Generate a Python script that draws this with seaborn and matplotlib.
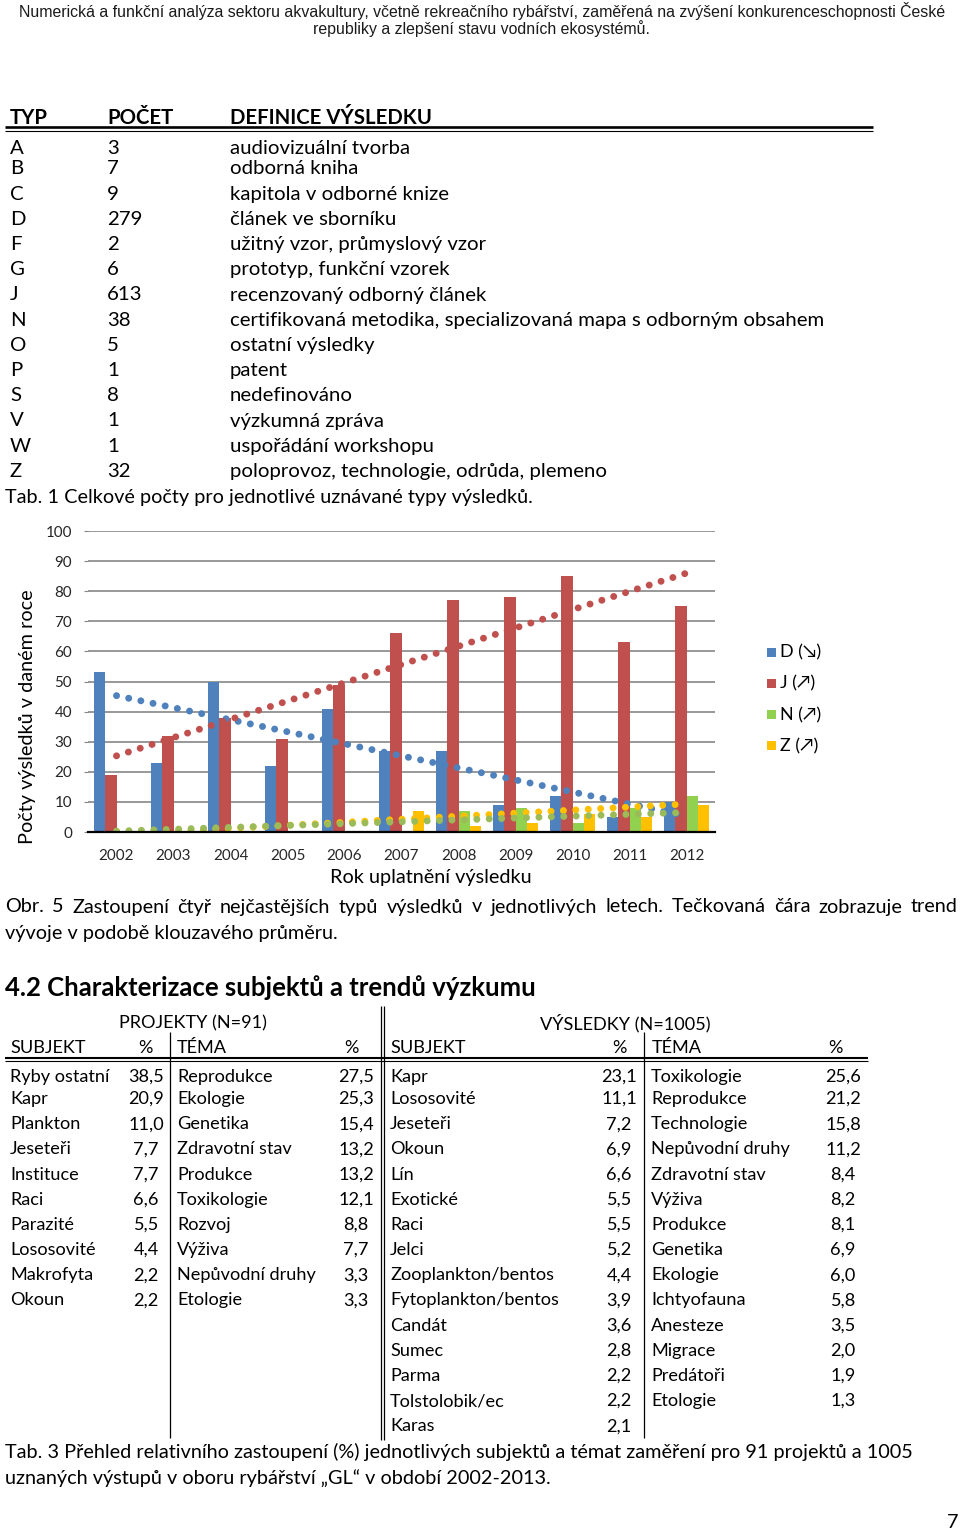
import numpy as np
import pandas as pd
import matplotlib
matplotlib.use("Agg")
import matplotlib.pyplot as plt
import seaborn as sns
from matplotlib.lines import Line2D
from matplotlib.patches import Rectangle
from matplotlib import font_manager as fm

# ---------------- data ----------------
years = ["2002", "2003", "2004", "2005", "2006", "2007", "2008", "2009", "2010", "2011", "2012"]
D_values = [53, 23, 50, 22, 41, 27, 27, 9, 12, 5, 10]
J_values = [19, 32, 38, 31, 49, 66, 77, 78, 85, 63, 75]
N_values = [0, 0, 0, 0, 0, 0, 7, 8, 3, 8, 12]
Z_values = [0, 0, 0, 0, 0, 7, 2, 3, 6, 5, 9]
series_labels = ["D (\u2198)", "J (\u2197)", "N (\u2197)", "Z (\u2197)"]
# trend line values (at 2002 and at 2012)
trend_start = [45.3, 25.3, 0.3, -0.8]
trend_end = [5.3, 86.0, 6.5, 9.3]
y_ticks = [0, 10, 20, 30, 40, 50, 60, 70, 80, 90, 100]

tab1_typ = ["A", "B", "C", "D", "F", "G", "J", "N", "O", "P", "S", "V", "W", "Z"]
tab1_pocet = [3, 7, 9, 279, 2, 6, 613, 38, 5, 1, 8, 1, 1, 32]
tab1_def = ["audiovizuální tvorba", "odborná kniha", "kapitola v odborné knize",
            "článek ve sborníku", "užitný vzor, průmyslový vzor", "prototyp, funkční vzorek",
            "recenzovaný odborný článek",
            "certifikovaná metodika, specializovaná mapa s odborným obsahem",
            "ostatní výsledky", "patent", "nedefinováno", "výzkumná zpráva",
            "uspořádání workshopu", "poloprovoz, technologie, odrůda, plemeno"]

proj_subj = ["Ryby ostatní", "Kapr", "Plankton", "Jeseteři", "Instituce", "Raci",
             "Parazité", "Lososovité", "Makrofyta", "Okoun"]
proj_subj_pct = [38.5, 20.9, 11.0, 7.7, 7.7, 6.6, 5.5, 4.4, 2.2, 2.2]
proj_tema = ["Reprodukce", "Ekologie", "Genetika", "Zdravotní stav", "Produkce",
             "Toxikologie", "Rozvoj", "Výživa", "Nepůvodní druhy", "Etologie"]
proj_tema_pct = [27.5, 25.3, 15.4, 13.2, 13.2, 12.1, 8.8, 7.7, 3.3, 3.3]
vys_subj = ["Kapr", "Lososovité", "Jeseteři", "Okoun", "Lín", "Exotické", "Raci", "Jelci",
            "Zooplankton/bentos", "Fytoplankton/bentos", "Candát", "Sumec", "Parma",
            "Tolstolobik/ec", "Karas"]
vys_subj_pct = [23.1, 11.1, 7.2, 6.9, 6.6, 5.5, 5.5, 5.2, 4.4, 3.9, 3.6, 2.8, 2.2, 2.2, 2.1]
vys_tema = ["Toxikologie", "Reprodukce", "Technologie", "Nepůvodní druhy", "Zdravotní stav",
            "Výživa", "Produkce", "Genetika", "Ekologie", "Ichtyofauna", "Anesteze",
            "Migrace", "Predátoři", "Etologie"]
vys_tema_pct = [25.6, 21.2, 15.8, 11.2, 8.4, 8.2, 8.1, 6.9, 6.0, 5.8, 3.5, 2.0, 1.9, 1.3]

bar_colors = ["#4F81BD", "#C0504D", "#92D050", "#FFC000"]
trend_colors = ["#4F81BD", "#C0504D", "#9BBB59", "#FFC000"]

# ---------------- setup ----------------
sns.set_theme(style="white")
BODY = ["Lato", "DejaVu Sans"]
plt.rcParams["font.family"] = BODY

def has_font(name):
    try:
        fm.findfont(fm.FontProperties(family=name), fallback_to_default=False)
        return True
    except Exception:
        return False

HEAD = ["Liberation Sans Narrow", "DejaVu Sans"] if has_font("Liberation Sans Narrow") else ["Liberation Sans", "DejaVu Sans"]

W, H = 960, 1531
YOFF = 2.0
fig = plt.figure(figsize=(W / 100, H / 100), dpi=100)
fig.patch.set_facecolor("white")
renderer = fig.canvas.get_renderer()

def fx(x):
    return x / W

def fy(y):
    return 1 - y / H

def width_of(s, size, **kw):
    t = fig.text(0, 0, s, fontsize=size, **kw)
    w = t.get_window_extent(renderer).width
    t.remove()
    return w

def fit(s, target, **kw):
    return 20 * target / width_of(s, 20, **kw)

def txt(x, y, s, size, ha="left", va="center", **kw):
    kw.setdefault("family", BODY)
    kw.setdefault("color", "black")
    return fig.text(fx(x), fy(y + YOFF), s, fontsize=size, ha=ha, va=va, **kw)

def hline(x0, x1, y, lw, color="black"):
    fig.add_artist(Line2D([fx(x0), fx(x1)], [fy(y), fy(y)], lw=lw, color=color,
                          transform=fig.transFigure, solid_capstyle="butt"))

def vline(x, y0, y1, lw, color="black"):
    fig.add_artist(Line2D([fx(x), fx(x)], [fy(y0), fy(y1)], lw=lw, color=color,
                          transform=fig.transFigure, solid_capstyle="butt"))

def justify(x0, x1, y, s, size, **kw):
    kw.setdefault("family", BODY)
    words = s.split(" ")
    ws = [width_of(w, size, **kw) for w in words]
    gap = (x1 - x0 - sum(ws)) / (len(words) - 1)
    x = x0
    for w, wd in zip(words, ws):
        txt(x, y, w, size, **kw)
        x += wd + gap

# ---------------- page header ----------------
h1 = "Numerická a funkční analýza sektoru akvakultury, včetně rekreačního rybářství, zaměřená na zvýšení konkurenceschopnosti České"
h2 = "republiky a zlepšení stavu vodních ekosystémů."
hs = fit(h1, 924, family=HEAD)
txt(482, 9, h1, hs, ha="center", family=HEAD, color="#1a1a1a")
txt(481, 27, h2, hs, ha="center", family=HEAD, color="#1a1a1a")

# ---------------- table 1 ----------------
bs = fit("certifikovaná metodika, specializovaná mapa s odborným obsahem", 594)
txt(10, 116, "TYP", bs, weight="bold")
txt(107, 116, "POČET", bs, weight="bold")
txt(230, 116, "DEFINICE VÝSLEDKU", bs, weight="bold")
hline(5, 873, 127.3, 1.9)
hline(5, 873, 130.6, 0.8)
for i, (t, p, d) in enumerate(zip(tab1_typ, tab1_pocet, tab1_def)):
    y = 146 if i == 0 else 167 + 25.2 * (i - 1)
    txt(10, y, t, bs)
    txt(107, y, str(p), bs)
    txt(230, y, d, bs)
cs = fit("Tab. 1 Celkové počty pro jednotlivé uznávané typy výsledků.", 531)
txt(5, 495, "Tab. 1 Celkové počty pro jednotlivé uznávané typy výsledků.", cs)

# ---------------- chart ----------------
df = pd.DataFrame({
    "Rok": years * 4,
    "Počet": D_values + J_values + N_values + Z_values,
    "Typ": sum([[lab] * len(years) for lab in series_labels], []),
})
ax = fig.add_axes([fx(88), fy(832), (715 - 88) / W, (832 - 531) / H])
sns.barplot(data=df, x="Rok", y="Počet", hue="Typ", hue_order=series_labels,
            palette=bar_colors, saturation=1, width=0.8, linewidth=0,
            legend=False, ax=ax, zorder=2)
for col in [0, 1, 3, 2]:
    ax.plot([0, len(years) - 1], [trend_start[col], trend_end[col]], color=trend_colors[col],
            lw=5.0, linestyle=(0, (0.01, 1.78)), dash_capstyle="round", zorder=4)
ax.set_xlim(-0.5, len(years) - 0.5)
ax.set_ylim(0, 100)
ax.set_yticks(y_ticks)
ax.yaxis.grid(True, color="#868686", lw=1.2)
ax.xaxis.grid(False)
ax.set_axisbelow(True)
for sp in ["left", "right", "top"]:
    ax.spines[sp].set_visible(False)
ax.spines["bottom"].set_color("black")
ax.spines["bottom"].set_linewidth(1.6)
ax.spines["bottom"].set_zorder(5)
ts = fit("2002", 35)
ax.tick_params(axis="y", length=3, width=0.8, color="#868686", pad=8.5, labelsize=ts, left=True)
ax.tick_params(axis="x", length=0, pad=12, labelsize=ts)
for lab in ax.get_xticklabels() + ax.get_yticklabels():
    lab.set_family(BODY)
ax.set_xlabel("")
ax.set_ylabel("")
ax.set_facecolor("white")

yl = fit("Počty výsledků v daném roce", 255)
fig.text(fx(28), fy(717), "Počty výsledků v daném roce", fontsize=yl, ha="center",
         va="center", rotation=90, family=BODY, color="black")
xl = fit("Rok uplatnění výsledku", 203)
txt(431, 876, "Rok uplatnění výsledku", xl, ha="center")

# legend
ls = fit(series_labels[0], 41)
for i, (lab, c) in enumerate(zip(series_labels, bar_colors)):
    yc = 652 + 31.3 * i
    fig.add_artist(Rectangle((fx(767), fy(yc + 4.5)), 9 / W, 9 / H, facecolor=c,
                             edgecolor="none", transform=fig.transFigure))
    txt(780, yc - 1.5, lab, ls)

# ---------------- caption of figure ----------------
cap1 = "Obr. 5 Zastoupení čtyř nejčastějších typů výsledků v jednotlivých letech. Tečkovaná čára zobrazuje trend"
justify(5, 958, 905, cap1, cs)
txt(5, 931, "vývoje v podobě klouzavého průměru.", cs)

# ---------------- heading ----------------
hd = "4.2 Charakterizace subjektů a trendů výzkumu"
hsz = fit(hd, 531, weight="bold")
txt(5, 986, hd, hsz, weight="bold")

# ---------------- table 3 ----------------
t3 = fit("Zooplankton/bentos", 164)
txt(193, 1021, "PROJEKTY (N=91)", t3, ha="center")
txt(625, 1021, "VÝSLEDKY (N=1005)", t3, ha="center")
txt(10, 1046, "SUBJEKT", t3)
txt(145, 1046, "%", t3, ha="center")
txt(177, 1046, "TÉMA", t3)
txt(351, 1046, "%", t3, ha="center")
txt(390, 1046, "SUBJEKT", t3)
txt(619, 1046, "%", t3, ha="center")
txt(652, 1046, "TÉMA", t3)
txt(835, 1046, "%", t3, ha="center")
hline(5, 868, 1058.3, 1.5)
hline(5, 868, 1061.3, 0.8)
vline(169.5, 1032, 1438, 0.9)
vline(380.5, 1006, 1440, 0.9)
vline(383.5, 1006, 1440, 0.9)
vline(643.5, 1032, 1438, 0.9)

def row_y(i):
    return 1075 if i == 0 else 1097 + 25.17 * (i - 1)

def fmt(v):
    return f"{v:.1f}".replace(".", ",")

for i, (s, p) in enumerate(zip(proj_subj, proj_subj_pct)):
    txt(10, row_y(i), s, t3)
    txt(146, row_y(i), fmt(p), t3, ha="center")
for i, (s, p) in enumerate(zip(proj_tema, proj_tema_pct)):
    txt(177, row_y(i), s, t3)
    txt(356, row_y(i), fmt(p), t3, ha="center")
for i, (s, p) in enumerate(zip(vys_subj, vys_subj_pct)):
    txt(390, row_y(i), s, t3)
    txt(619, row_y(i), fmt(p), t3, ha="center")
for i, (s, p) in enumerate(zip(vys_tema, vys_tema_pct)):
    txt(651, row_y(i), s, t3)
    txt(843, row_y(i), fmt(p), t3, ha="center")

c3a = "Tab. 3 Přehled relativního zastoupení (%) jednotlivých subjektů a témat zaměření pro 91 projektů a 1005"
c3b = "uznaných výstupů v oboru rybářství \u201eGL\u201c v období 2002-2013."
c3s = fit(c3b, 546)
txt(5, 1450, c3a, c3s)
txt(5, 1476, c3b, c3s)

txt(953, 1520, "7", c3s, ha="center")

fig.savefig("out.png", dpi=100, facecolor="white")
